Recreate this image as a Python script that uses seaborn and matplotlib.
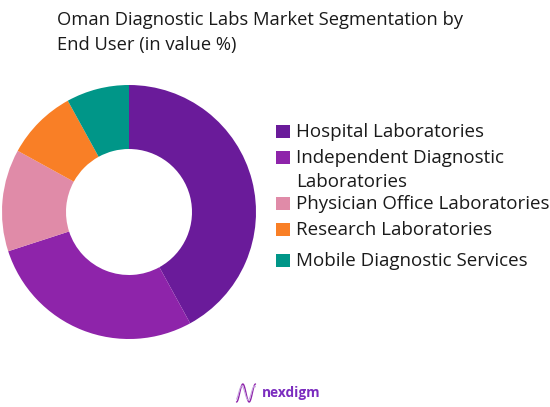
import numpy as np
import matplotlib
matplotlib.use('Agg')
import matplotlib.pyplot as plt
import seaborn as sns

title = "Oman Diagnostic Labs Market Segmentation by\nEnd User (in value %)"
segments = ['Hospital Laboratories', 'Independent Diagnostic\nLaboratories',
            'Physician Office Laboratories', 'Research Laboratories',
            'Mobile Diagnostic Services']
shares = [42, 28, 13, 9, 8]
colors = ['#6a1b9a', '#8e24aa', '#e08ba8', '#f97f26', '#009688']
legend_y = [131, 157, 203, 229, 260]

W, H = 550, 407

sns.set_theme(style='white')
plt.rcParams['font.family'] = ['Open Sans', 'DejaVu Sans']

fig = plt.figure(figsize=(W / 100, H / 100), dpi=100)
ax = fig.add_axes([0, 0, 1, 1])
ax.set_xlim(0, W)
ax.set_ylim(H, 0)
ax.axis('off')

# y axis is flipped, so the pie runs clockwise with counterclock=True
ax.pie(shares, colors=sns.color_palette(colors), center=(129, 212), radius=127,
       startangle=-90, counterclock=True, frame=True,
       wedgeprops=dict(width=64, linewidth=0))
ax.set_xlim(0, W)
ax.set_ylim(H, 0)
ax.set_aspect('equal')
ax.axis('off')

ax.text(57, 11, title, fontsize=13.2, color='#1a1a1a', va='top', ha='left', linespacing=1.5)

# legend drawn by hand, the spacing in the original is uneven
for label, col, y in zip(segments, colors, legend_y):
    ax.add_patch(plt.Rectangle((276, y - 6.5), 13.5, 13.5, color=col, lw=0))
    ax.text(296, y - 8, label, fontsize=13.5, color='#1a1a1a', va='top', ha='left', linespacing=1.45)

# logo
t = np.linspace(-1, 1, 80)
ax.plot(246 + 9.5 * t, 393 + 9 * np.sin(1.5 * np.pi * t), color='#8e24aa', lw=1)
ax.plot(246 + 9.5 * t, 393 + 7 * np.sin(1.5 * np.pi * t + 0.5), color='#c9a6e0', lw=0.8)
ax.text(262, 393, 'nexdigm', fontsize=9.8, fontweight='bold', color='#7b2cbf', va='center', ha='left')

fig.savefig('out.png', dpi=100, facecolor='white')
